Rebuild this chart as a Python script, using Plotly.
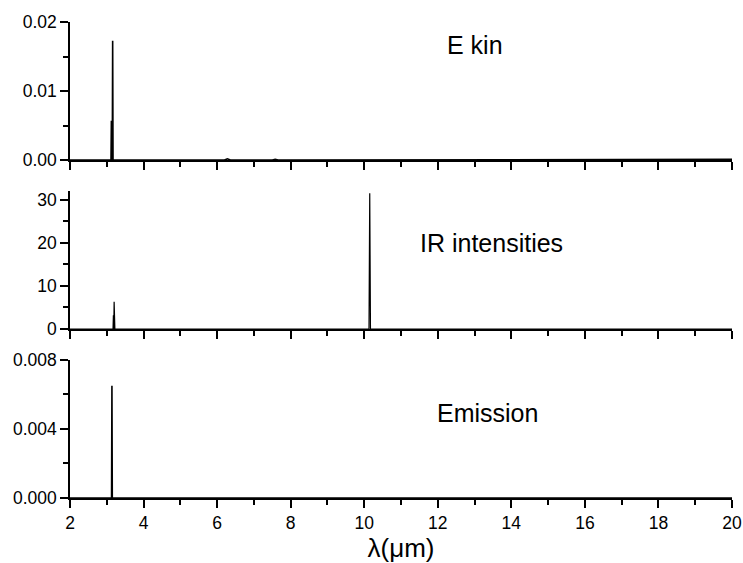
import plotly.graph_objects as go

# E kin spectrum
ekin_x = [2.0, 3.10, 3.115, 3.125, 3.135, 3.150, 3.160, 3.170, 3.20, 6.20, 6.28, 6.36, 7.50, 7.58, 7.66, 17.2, 20.0]
ekin_y = [0.0, 0.0, 0.0, 0.0057, 0.0, 0.0, 0.0173, 0.0, 0.0, 0.0, 0.00018, 0.0, 0.0, 0.0001, 0.0, 0.0001, 0.0001]

# IR intensities spectrum
ir_x = [2.0, 3.17, 3.18, 3.19, 3.20, 3.21, 3.22, 10.13, 10.15, 10.17, 20.0]
ir_y = [0.0, 0.0, 3.2, 0.0, 6.3, 0.0, 0.0, 0.0, 31.5, 0.0, 0.0]

# Emission spectrum
em_x = [2.0, 3.13, 3.14, 3.15, 20.0]
em_y = [0.0, 0.0, 0.0065, 0.0, 0.0]

x_range = [2, 20]
y_ranges = [[0, 0.02], [0, 32], [0, 0.008]]
y_dticks = [0.01, 10, 0.004]
y_formats = [".2f", "d", ".3f"]
labels = ["E kin", "IR intensities", "Emission"]

FONT = "Liberation Sans, Arial, sans-serif"
fig = go.Figure()
series = [(ekin_x, ekin_y, 1.6), (ir_x, ir_y, 1.2), (em_x, em_y, 1.6)]
for i, (xs, ys, w) in enumerate(series):
    fig.add_trace(go.Scatter(x=xs, y=ys, mode="lines", line=dict(color="black", width=w),
                             xaxis="x" if i == 0 else f"x{i+1}",
                             yaxis="y" if i == 0 else f"y{i+1}", showlegend=False, hoverinfo="skip"))

domains = [[0.710, 1.0], [0.355, 0.645], [0.0, 0.29]]
axis_common = dict(showline=True, linecolor="black", linewidth=1.5, ticks="outside",
                   tickcolor="black", tickwidth=1.5, showgrid=False, zeroline=False,
                   automargin=False,
                   tickfont=dict(family=FONT, size=17.5, color="black"))
layout = dict(width=743, height=563, margin=dict(l=70, r=11, t=22, b=65),
              plot_bgcolor="white", paper_bgcolor="white", showlegend=False)
for i in range(3):
    xa = "xaxis" if i == 0 else f"xaxis{i+1}"
    ya = "yaxis" if i == 0 else f"yaxis{i+1}"
    yid = "y" if i == 0 else f"y{i+1}"
    xid = "x" if i == 0 else f"x{i+1}"
    layout[xa] = dict(axis_common, range=x_range, dtick=2, ticklen=8, anchor=yid,
                      showticklabels=(i == 2),
                      minor=dict(dtick=1, ticklen=5, tickcolor="black", tickwidth=1.5, ticks="outside"))
    if i > 0:
        layout[xa]["matches"] = "x"
    layout[ya] = dict(axis_common, range=y_ranges[i], dtick=y_dticks[i], ticklen=8, anchor=xid,
                      domain=domains[i], tickformat=y_formats[i],
                      minor=dict(dtick=y_dticks[i] / 2, ticklen=5, tickcolor="black", tickwidth=1.5, ticks="outside"))
layout["xaxis3"]["title"] = dict(text="λ(μm)", font=dict(family=FONT, size=26, color="black"), standoff=4)
fig.update_layout(**layout)

ann_pos = [(0.612, 0.952), (0.636, 0.536), (0.631, 0.179)]
for (ax, ay), t in zip(ann_pos, labels):
    fig.add_annotation(x=ax, y=ay, xref="paper", yref="paper", text=t, showarrow=False,
                       xanchor="center", yanchor="middle",
                       font=dict(family=FONT, size=25, color="black"))

fig.write_html("out.html")
